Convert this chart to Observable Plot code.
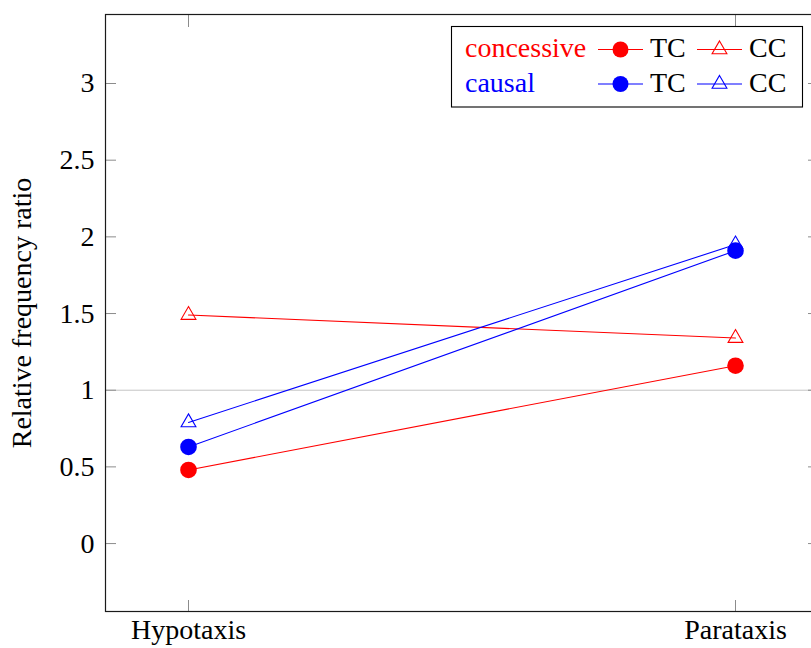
<!DOCTYPE html>
<html>
<head>
<meta charset="utf-8">
<script src="https://cdn.jsdelivr.net/npm/d3@7"></script>
<script src="https://cdn.jsdelivr.net/npm/@observablehq/plot@0.6"></script>
</head>
<body style="margin:0">
<div id="chart"></div>
<script>
// Clause position categories on the x axis
const categories = ["Hypotaxis", "Parataxis"];

// Relative frequency ratios per series (Hypotaxis, Parataxis)
const concessiveTC = [0.48, 1.16];
const concessiveCC = [1.49, 1.34];
const causalTC = [0.63, 1.91];
const causalCC = [0.79, 1.95];

// Tick values for the y axis
const yTicks = [0, 0.5, 1, 1.5, 2, 2.5, 3];

const relations = ["concessive", "causal"];
const relationColors = ["#ff0000", "#0000ff"];
const markerKinds = ["TC", "CC"];

const series = [
  {relation: "concessive", kind: "TC", values: concessiveTC},
  {relation: "concessive", kind: "CC", values: concessiveCC},
  {relation: "causal", kind: "TC", values: causalTC},
  {relation: "causal", kind: "CC", values: causalCC}
];

const rows = series.flatMap(s =>
  s.values.map((v, i) => ({
    relation: s.relation,
    kind: s.kind,
    key: s.relation + " " + s.kind,
    category: categories[i],
    value: v
  }))
);

const tickGray = "#8c8c8c";
const fontFamily = "Liberation Serif";

const chart = Plot.plot({
  width: 811,
  height: 648,
  marginLeft: 105,
  marginRight: -7,
  marginTop: 14,
  marginBottom: 37,
  style: {fontFamily, fontSize: "28px"},
  x: {type: "point", domain: categories, padding: 0.1517},
  y: {domain: [-0.443, 3.45]},
  color: {domain: relations, range: relationColors},
  marks: [
    Plot.ruleY([1], {stroke: "#c4c4c4", strokeWidth: 1}),
    // inward ticks on all four sides
    Plot.axisY(yTicks, {anchor: "left", tickSize: -11, fill: "none", stroke: tickGray, label: null}),
    Plot.axisY(yTicks, {anchor: "right", tickSize: -11, fill: "none", stroke: tickGray, label: null}),
    Plot.axisX(categories, {anchor: "bottom", tickSize: -11, fill: "none", stroke: tickGray, label: null}),
    Plot.axisX(categories, {anchor: "top", tickSize: -12, fill: "none", stroke: tickGray, label: null}),
    // tick labels
    Plot.axisY(yTicks, {anchor: "left", tickSize: 0, tickPadding: 11, label: null, tickFormat: d => String(d)}),
    Plot.axisX(categories, {anchor: "bottom", tickSize: 0, tickPadding: 8, label: null}),
    Plot.text(["Relative frequency ratio"], {frameAnchor: "left", textAnchor: "middle", rotate: -90, dx: -83}),
    Plot.frame({stroke: "#1a1a1a", strokeWidth: 1.2}),
    // series lines and markers
    Plot.line(rows, {x: "category", y: "value", z: "key", stroke: "relation", strokeWidth: 1.1}),
    Plot.dot(rows.filter(d => d.kind === "CC"), {
      x: "category", y: "value", symbol: "triangle", r: 5.5,
      stroke: "relation", fill: "none", strokeWidth: 1.1
    }),
    Plot.dot(rows.filter(d => d.kind === "TC"), {
      x: "category", y: "value", r: 8.3, fill: "relation", stroke: "none"
    })
  ]
});

document.getElementById("chart").appendChild(chart);

// Legend box in the upper right corner of the plot area
const svg = d3.select(chart);
const legend = svg.append("g").attr("text-anchor", "start");

legend.append("rect")
  .attr("x", 451.5).attr("y", 26.5)
  .attr("width", 351).attr("height", 80.5)
  .attr("fill", "#fff").attr("stroke", "#000").attr("stroke-width", 1.1);

const rowY = [49.5, 84];
const triangle = d3.symbol(d3.symbolTriangle, Math.PI * 5.5 * 5.5)();

relations.forEach((rel, i) => {
  const y = rowY[i];
  const color = relationColors[i];
  legend.append("text")
    .attr("x", 465).attr("y", y + 7.5)
    .attr("fill", color)
    .text(rel);

  markerKinds.forEach((kind, j) => {
    const x0 = j === 0 ? 598 : 697;
    const cx = x0 + 22.5;
    legend.append("line")
      .attr("x1", x0).attr("x2", x0 + 45)
      .attr("y1", y).attr("y2", y)
      .attr("stroke", color).attr("stroke-width", 1.1);
    if (kind === "TC") {
      legend.append("circle")
        .attr("cx", cx).attr("cy", y).attr("r", 8)
        .attr("fill", color);
    } else {
      legend.append("path")
        .attr("d", triangle)
        .attr("transform", `translate(${cx},${y})`)
        .attr("fill", "none").attr("stroke", color).attr("stroke-width", 1.1);
    }
    legend.append("text")
      .attr("x", x0 + 52).attr("y", y + 7.5)
      .attr("fill", "#000")
      .text(kind);
  });
});

// Serif face on every label of the chart
svg.attr("font-family", fontFamily);
svg.selectAll("g").attr("font-family", fontFamily);
svg.selectAll("text")
  .attr("font-family", fontFamily)
  .attr("font-size", 28)
  .style("font-family", fontFamily);
</script>
</body>
</html>
